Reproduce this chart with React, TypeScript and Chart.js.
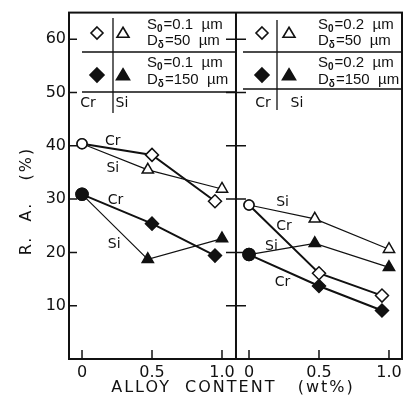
import React, { useEffect, useRef } from "react";
import { Chart, registerables } from "chart.js";
Chart.register(...registerables);

// shared x axis: left panel 0..1, right panel shifted by PANEL_OFFSET
const PANEL_OFFSET = 1.193;
const X_MIN = -0.093;
const X_MAX = 2.286;
const DIVIDER_X = 1.1;
const Y_MIN = 0;
const Y_MAX = 65;
const xTickValues = [0, 0.5, 1.0];
const xTickLabels = ["0", "0.5", "1.0"];
const yTickValues = [10, 20, 30, 40, 50, 60];

const crX = [0, 0.5, 0.95];
const siX = [0, 0.47, 1.0];

// left panel, S0 = 0.1 um
const left_D50_Cr = [40.4, 38.3, 29.6];
const left_D50_Si = [40.4, 35.5, 31.9];
const left_D150_Cr = [30.9, 25.4, 19.4];
const left_D150_Si = [30.9, 18.7, 22.6];
// right panel, S0 = 0.2 um
const right_D50_Cr = [28.9, 16.1, 11.9];
const right_D50_Si = [28.9, 26.3, 20.6];
const right_D150_Cr = [19.6, 13.7, 9.1];
const right_D150_Si = [19.6, 21.7, 17.2];

// line annotations
const seriesLabelText = ["Cr", "Si", "Cr", "Si", "Si", "Cr", "Si", "Cr"];
const seriesLabelPanel = [0, 0, 0, 0, 1, 1, 1, 1];
const seriesLabelX = [0.22, 0.22, 0.24, 0.23, 0.24, 0.25, 0.16, 0.24];
const seriesLabelY = [40.9, 35.7, 29.7, 21.5, 29.3, 24.9, 21.2, 14.4];

const legendS0 = ["0.1", "0.2"];
const legendD = ["50", "150"];

const FONT = "'DejaVu Sans', sans-serif";
const LFONT = "'Liberation Sans', Arial, sans-serif";
const INK = "#111";

function makeSet(label: string, xs: number[], ys: number[], offset: number, open: boolean, marker: string, width: number) {
  return {
    label,
    data: xs.map((x, i) => ({ x: x + offset, y: ys[i] })),
    borderColor: INK,
    borderWidth: width,
    pointStyle: xs.map((_, i) => (i === 0 ? "circle" : marker)),
    pointRadius: xs.map((_, i) => (i === 0 ? (open ? 5 : 6) : marker === "triangle" ? 6.5 : 6.5)),
    pointBackgroundColor: open ? "#fff" : INK,
    pointBorderColor: INK,
    pointBorderWidth: 1.5,
    tension: 0,
    fill: false,
  };
}

function drawMarker(ctx: CanvasRenderingContext2D, style: string, x: number, y: number, r: number, filled: boolean) {
  ctx.beginPath();
  if (style === "diamond") {
    ctx.moveTo(x, y - r);
    ctx.lineTo(x + r, y);
    ctx.lineTo(x, y + r);
    ctx.lineTo(x - r, y);
    ctx.closePath();
  } else {
    const h = r * 1.6;
    ctx.moveTo(x, y - h * 0.6);
    ctx.lineTo(x + r, y + h * 0.45);
    ctx.lineTo(x - r, y + h * 0.45);
    ctx.closePath();
  }
  ctx.lineWidth = 1.6;
  ctx.strokeStyle = INK;
  ctx.fillStyle = filled ? INK : "#fff";
  ctx.fill();
  ctx.stroke();
}

function drawSubText(ctx: CanvasRenderingContext2D, main: string, sub: string, rest: string, x: number, y: number) {
  ctx.textAlign = "left";
  ctx.textBaseline = "middle";
  ctx.fillStyle = INK;
  ctx.font = `15px ${LFONT}`;
  ctx.fillText(main, x, y);
  let cx = x + ctx.measureText(main).width;
  ctx.font = `bold 10px ${LFONT}`;
  ctx.fillText(sub, cx, y + 4);
  cx += ctx.measureText(sub).width + 1;
  ctx.font = `15px ${LFONT}`;
  ctx.fillText(rest, cx, y);
}

const framePlugin = {
  id: "frame",
  afterDraw(chart: any) {
    const ctx: CanvasRenderingContext2D = chart.ctx;
    const { left, right, top, bottom } = chart.chartArea;
    const xs = chart.scales.x;
    const ys = chart.scales.y;
    ctx.save();
    ctx.strokeStyle = INK;
    ctx.fillStyle = INK;
    // frame
    ctx.lineWidth = 2;
    ctx.strokeRect(left, top, right - left, bottom - top);
    // divider
    const dx = xs.getPixelForValue(DIVIDER_X);
    ctx.beginPath();
    ctx.moveTo(dx, top);
    ctx.lineTo(dx, bottom);
    ctx.stroke();
    // inside ticks
    ctx.lineWidth = 1.5;
    yTickValues.forEach((v) => {
      const py = ys.getPixelForValue(v);
      ctx.beginPath();
      ctx.moveTo(left, py);
      ctx.lineTo(left + 8, py);
      ctx.moveTo(dx - 10, py);
      ctx.lineTo(dx + 10, py);
      ctx.stroke();
    });
    [0, PANEL_OFFSET].forEach((off) =>
      xTickValues.forEach((v) => {
        const px = xs.getPixelForValue(v + off);
        ctx.beginPath();
        ctx.moveTo(px, bottom);
        ctx.lineTo(px, bottom - 9);
        ctx.stroke();
      })
    );
    // legends
    const legendLayouts = [
      { lx: 82, rx: dx, y1: 52, y2: 92, vx: 113, vTop: 18, vBot: 113, m1: 97, m2: 123, tx: 147, cr: 88, si: 122 },
      { lx: 243, rx: right, y1: 52, y2: 89, vx: 277, vTop: 20, vBot: 110, m1: 262, m2: 289, tx: 318, cr: 263, si: 297 },
    ];
    legendLayouts.forEach((L, p) => {
      ctx.lineWidth = 1.3;
      ctx.beginPath();
      ctx.moveTo(L.lx, L.y1);
      ctx.lineTo(L.rx, L.y1);
      ctx.moveTo(L.lx, L.y2);
      ctx.lineTo(L.rx, L.y2);
      ctx.moveTo(L.vx, L.vTop);
      ctx.lineTo(L.vx, L.vBot);
      ctx.stroke();
      drawMarker(ctx, "diamond", L.m1, 33, 6, false);
      drawMarker(ctx, "triangle", L.m2, 33, 6, false);
      drawMarker(ctx, "diamond", L.m1, 75, 7, true);
      drawMarker(ctx, "triangle", L.m2, 75, 6.5, true);
      drawSubText(ctx, "S", "0", `=${legendS0[p]}  µm`, L.tx, 25);
      drawSubText(ctx, "D", "δ", `=${legendD[0]}  µm`, L.tx, 41);
      drawSubText(ctx, "S", "0", `=${legendS0[p]}  µm`, L.tx, 63);
      drawSubText(ctx, "D", "δ", `=${legendD[1]}  µm`, L.tx, 80);
      ctx.font = `14px ${FONT}`;
      ctx.textAlign = "center";
      ctx.textBaseline = "middle";
      ctx.fillText("Cr", L.cr, 103);
      ctx.fillText("Si", L.si, 103);
    });
    // series annotations
    ctx.font = `14px ${FONT}`;
    ctx.textAlign = "center";
    ctx.textBaseline = "middle";
    seriesLabelText.forEach((t, i) => {
      const px = xs.getPixelForValue(seriesLabelX[i] + (seriesLabelPanel[i] ? PANEL_OFFSET : 0));
      const py = ys.getPixelForValue(seriesLabelY[i]);
      ctx.fillText(t, px, py);
    });
    // axis titles
    ctx.font = `16px ${FONT}`;
    (ctx as any).letterSpacing = "2px";
    ctx.textAlign = "center";
    ctx.fillText("ALLOY  CONTENT   (wt%)", 233, 388);
    ctx.save();
    ctx.translate(27, 201);
    ctx.rotate(-Math.PI / 2);
    ctx.fillText("R.  A.   (%)", 0, 0);
    ctx.restore();
    (ctx as any).letterSpacing = "0px";
    ctx.restore();
  },
};

export default function App() {
  const ref = useRef<HTMLCanvasElement | null>(null);
  useEffect(() => {
    if (!ref.current) return;
    const datasets = [
      makeSet("S0=0.1 D=50 Cr", crX, left_D50_Cr, 0, true, "rectRot", 2),
      makeSet("S0=0.1 D=50 Si", siX, left_D50_Si, 0, true, "triangle", 1.2),
      makeSet("S0=0.1 D=150 Cr", crX, left_D150_Cr, 0, false, "rectRot", 2),
      makeSet("S0=0.1 D=150 Si", siX, left_D150_Si, 0, false, "triangle", 1.2),
      makeSet("S0=0.2 D=50 Cr", crX, right_D50_Cr, PANEL_OFFSET, true, "rectRot", 2),
      makeSet("S0=0.2 D=50 Si", siX, right_D50_Si, PANEL_OFFSET, true, "triangle", 1.2),
      makeSet("S0=0.2 D=150 Cr", crX, right_D150_Cr, PANEL_OFFSET, false, "rectRot", 2),
      makeSet("S0=0.2 D=150 Si", siX, right_D150_Si, PANEL_OFFSET, false, "triangle", 1.2),
    ];
    const chart = new Chart(ref.current, {
      type: "line",
      data: { datasets } as any,
      options: {
        animation: false,
        responsive: false,
        devicePixelRatio: 1,
        layout: { padding: { top: 7, right: 11, left: 0, bottom: 0 } },
        plugins: { legend: { display: false }, tooltip: { enabled: false } },
        scales: {
          x: {
            type: "linear",
            min: X_MIN,
            max: X_MAX,
            grid: { display: false, drawTicks: false },
            border: { display: true, color: INK, width: 2 },
            afterBuildTicks: (scale: any) => {
              scale.ticks = [
                ...xTickValues.map((v) => ({ value: v })),
                ...xTickValues.map((v) => ({ value: v + PANEL_OFFSET })),
              ];
            },
            afterFit: (scale: any) => {
              scale.height = 44;
            },
            ticks: {
              autoSkip: false,
              maxRotation: 0,
              padding: 4,
              color: INK,
              font: { family: FONT, size: 16 },
              callback: (_v: any, i: number) => xTickLabels[i % 3],
            },
          },
          y: {
            type: "linear",
            min: Y_MIN,
            max: Y_MAX,
            grid: { display: false, drawTicks: false },
            border: { display: true, color: INK, width: 2 },
            afterBuildTicks: (scale: any) => {
              scale.ticks = yTickValues.map((v) => ({ value: v }));
            },
            afterFit: (scale: any) => {
              scale.width = 69;
            },
            ticks: {
              padding: 3,
              color: INK,
              font: { family: FONT, size: 16 },
              callback: (v: any) => String(v),
            },
          },
        },
      } as any,
      plugins: [framePlugin],
    });
    return () => chart.destroy();
  }, []);
  return (
    <div style={{ position: "fixed", left: 0, top: 0, width: 413, height: 403, background: "#fff" }}>
      <canvas ref={ref} width={413} height={403} />
    </div>
  );
}
